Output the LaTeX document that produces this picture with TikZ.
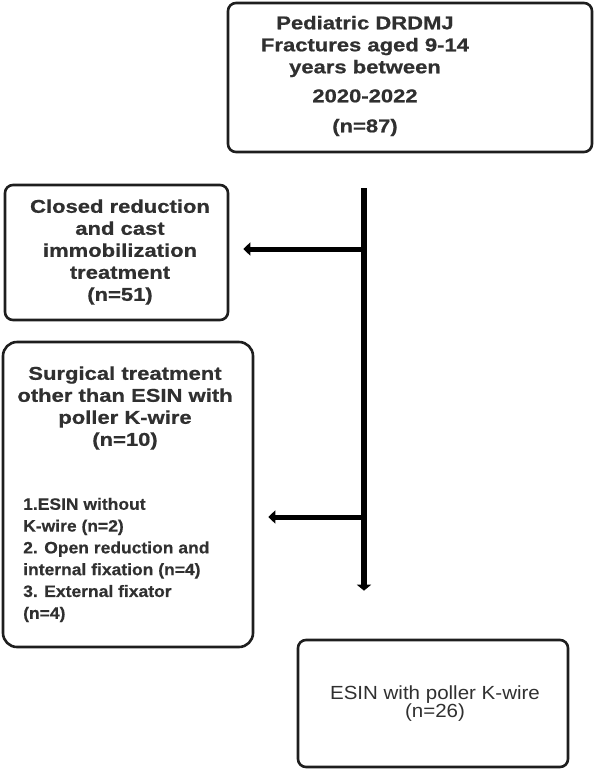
\documentclass[tikz,border=0pt]{standalone}
\usepackage{fontspec}
\setmainfont{Liberation Sans}
\newfontfamily\widefont[FakeStretch=1.19,FakeBold=0.8]{Liberation Sans}
\newfontfamily\listfont[FakeStretch=1.06,FakeBold=0.4]{Liberation Sans}
\newfontfamily\regfont[FakeStretch=1.08]{Liberation Sans}
\usetikzlibrary{arrows.meta}
\definecolor{txt}{HTML}{303030}
\definecolor{edge}{HTML}{1E1E1E}
\tikzset{
  boxshape/.style={draw=edge, line width=2.6pt, rounded corners=8pt, inner sep=0pt},
  btext/.style={text=txt, font=\widefont\bfseries\fontsize{18.5}{22}\selectfont, align=center, inner sep=0pt},
  ltext/.style={text=txt, font=\listfont\bfseries\fontsize{16.5}{21.8}\selectfont, align=left, inner sep=0pt},
  rtext/.style={text=txt, font=\regfont\fontsize{19}{18}\selectfont, align=center, inner sep=0pt},
  flow/.style={draw=black, line width=6.5pt, -{Triangle[length=6pt,width=14pt]}},
  branch/.style={draw=black, line width=5pt, -{Triangle[length=7pt,width=13pt]}},
}
\begin{document}
\begin{tikzpicture}[x=1pt,y=-1pt]
\useasboundingbox (0,0) rectangle (596,772);
% boxes
\node[boxshape, minimum width=364pt, minimum height=149pt] (top) at (410,77.5) {};
\node[btext] (toptext) at (365,76) {Pediatric DRDMJ\\Fractures aged 9-14\\years between\\[7pt]2020-2022\\[8pt](n=87)};
\node[boxshape, minimum width=223pt, minimum height=135pt] (closed) at (116.5,252.5) {};
\node[btext] (closedtext) at (120,252) {Closed reduction\\and cast\\immobilization\\treatment\\(n=51)};
\node[boxshape, rounded corners=14pt, minimum width=250pt, minimum height=305pt] (surg) at (128,494.5) {};
\node[btext] (surgtext) at (125,408) {Surgical treatment\\other than ESIN with\\poller K-wire\\(n=10)};
\node[ltext, anchor=west] (surglist) at (23,560) {1.ESIN without\\K-wire (n=2)\\2. Open reduction and\\internal fixation (n=4)\\3. External fixator\\(n=4)};
\node[boxshape, minimum width=270pt, minimum height=127pt] (esin) at (433,703.5) {};
\node[rtext] (esintext) at (435,704) {ESIN with poller K-wire\\(n=26)};
% connectors
\coordinate (vtop) at (364,188);
\coordinate (b1) at (364,249);
\coordinate (b2) at (364,517);
\draw[flow, shorten >=48pt] (vtop) -- (vtop |- esin.north);
\draw[branch, shorten >=14pt] (b1) -- (b1 -| closed.east);
\draw[branch, shorten >=14pt] (b2) -- (b2 -| surg.east);
\end{tikzpicture}
\end{document}
